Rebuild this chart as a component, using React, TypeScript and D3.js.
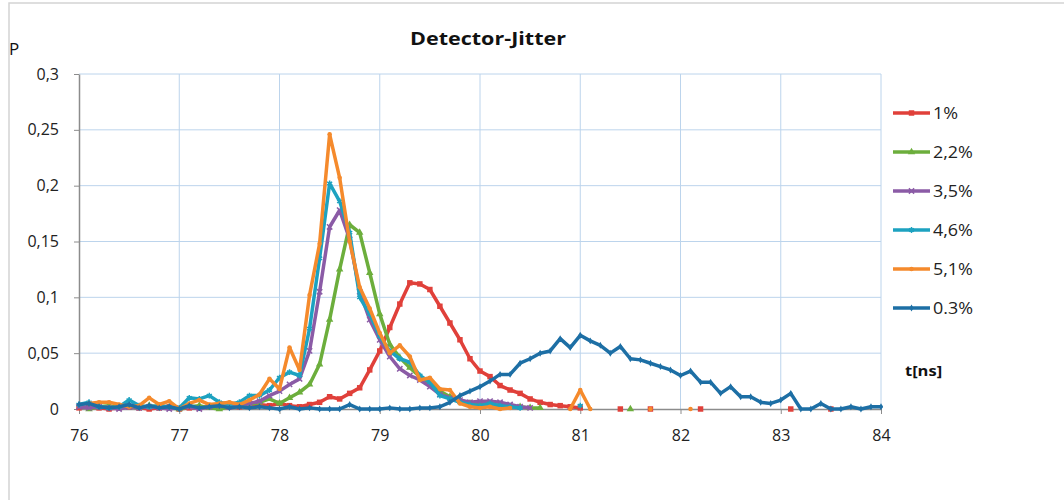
import React, { useRef, useEffect } from 'react';
import * as d3 from 'd3';

// t in ns
const times = [
  76.0, 76.1, 76.2, 76.3, 76.4, 76.5, 76.6, 76.7, 76.8, 76.9,
  77.0, 77.1, 77.2, 77.3, 77.4, 77.5, 77.6, 77.7, 77.8, 77.9,
  78.0, 78.1, 78.2, 78.3, 78.4, 78.5, 78.6, 78.7, 78.8, 78.9,
  79.0, 79.1, 79.2, 79.3, 79.4, 79.5, 79.6, 79.7, 79.8, 79.9,
  80.0, 80.1, 80.2, 80.3, 80.4, 80.5, 80.6, 80.7, 80.8, 80.9,
  81.0, 81.1, 81.2, 81.3, 81.4, 81.5, 81.6, 81.7, 81.8, 81.9,
  82.0, 82.1, 82.2, 82.3, 82.4, 82.5, 82.6, 82.7, 82.8, 82.9,
  83.0, 83.1, 83.2, 83.3, 83.4, 83.5, 83.6, 83.7, 83.8, 83.9, 84.0,
];

// P per series (null = no point)
const p1 = [
  0.001, 0.002, 0.001, 0.000, 0.001, 0.002, 0.001, 0.000, 0.001, 0.002,
  0.000, 0.001, 0.001, 0.002, 0.001, 0.002, 0.002, 0.003, 0.004, 0.003,
  0.005, 0.003, 0.002, 0.004, 0.006, 0.011, 0.009, 0.014, 0.019, 0.035,
  0.052, 0.073, 0.094, 0.113, 0.112, 0.107, 0.092, 0.077, 0.062, 0.045,
  0.034, 0.029, 0.021, 0.017, 0.014, 0.009, 0.006, 0.004, 0.003, 0.002,
  0.001, null, null, null, 0, null, null, 0, null, null,
  null, null, 0, null, null, null, null, null, null, null,
  null, 0, null, null, null, 0, null, null, null, null, null,
];

const p22 = [
  null, 0.000, 0.002, 0.003, 0.001, 0.002, 0.001, 0.003, 0.002, 0.001,
  0.000, 0.002, 0.003, 0.001, 0.000, 0.002, 0.003, 0.004, 0.006, 0.009,
  0.005, 0.010, 0.015, 0.022, 0.040, 0.080, 0.125, 0.165, 0.158, 0.122,
  0.085, 0.058, 0.046, 0.037, 0.029, 0.023, 0.016, 0.011, 0.008, 0.005,
  0.004, 0.004, 0.003, 0.002, 0.002, 0.001, 0.001, null, null, null,
  null, null, null, null, null, 0, null, null, null, null,
  null, null, null, null, null, null, null, null, null, null,
  null, null, null, null, null, null, null, null, null, null, null,
];

const p35 = [
  0.002, 0.001, 0.002, 0.001, 0.000, 0.002, 0.001, 0.002, 0.001, 0.000,
  0.001, 0.002, 0.000, 0.002, 0.003, 0.002, 0.004, 0.005, 0.007, 0.012,
  0.016, 0.022, 0.027, 0.052, 0.105, 0.163, 0.178, 0.152, 0.105, 0.080,
  0.062, 0.047, 0.036, 0.030, 0.026, 0.020, 0.013, 0.010, 0.008, 0.006,
  0.007, 0.007, 0.006, 0.004, 0.002, 0.001, null, null, null, null,
  null, null, null, null, null, null, null, null, null, null,
  null, null, null, null, null, null, null, null, null, null,
  null, null, null, null, null, null, null, null, null, null, null,
];

const p46 = [
  0.004, 0.006, 0.002, 0.001, 0.002, 0.008, 0.003, 0.002, 0.003, 0.002,
  0.001, 0.010, 0.009, 0.012, 0.006, 0.004, 0.006, 0.012, 0.012, 0.017,
  0.028, 0.033, 0.030, 0.072, 0.135, 0.202, 0.186, 0.158, 0.100, 0.085,
  0.065, 0.052, 0.045, 0.042, 0.030, 0.024, 0.012, 0.009, 0.006, 0.004,
  0.003, 0.005, 0.003, 0.002, 0.001, null, null, null, null, null,
  0.003, null, null, null, null, null, null, null, null, null,
  null, null, null, null, null, null, null, null, null, null,
  null, null, null, null, null, null, null, null, null, null, null,
];

const p51 = [
  null, 0.005, 0.006, 0.006, 0.004, 0.002, 0.003, 0.010, 0.004, 0.007,
  0.000, 0.005, 0.008, 0.004, 0.005, 0.006, 0.004, 0.008, 0.013, 0.027,
  0.018, 0.055, 0.035, 0.102, 0.148, 0.246, 0.207, 0.150, 0.109, 0.090,
  0.068, 0.050, 0.057, 0.047, 0.026, 0.028, 0.018, 0.017, 0.005, 0.002,
  0.001, 0.002, 0.000, 0.001, null, null, null, null, null, 0.000,
  0.017, 0.000, null, null, null, null, null, 0, null, null,
  null, 0, null, null, null, null, null, null, null, null,
  null, null, null, null, null, null, null, null, null, null, null,
];

const p03 = [
  0.004, 0.005, 0.002, 0.001, 0.002, 0.004, 0.001, 0.003, 0.001, 0.002,
  0.000, 0.003, 0.001, 0.002, 0.003, 0.001, 0.002, 0.001, 0.002, 0.001,
  0.000, 0.002, 0.000, 0.001, 0.000, 0.000, 0.000, 0.004, 0.000, 0.000,
  0.000, 0.001, 0.000, 0.000, 0.001, 0.001, 0.002, 0.006, 0.012, 0.016,
  0.020, 0.025, 0.031, 0.031, 0.041, 0.045, 0.050, 0.052, 0.063, 0.055,
  0.066, 0.061, 0.057, 0.050, 0.056, 0.045, 0.044, 0.041, 0.038, 0.035,
  0.030, 0.034, 0.024, 0.024, 0.014, 0.020, 0.011, 0.011, 0.006, 0.005,
  0.008, 0.014, 0.000, 0.000, 0.005, 0.000, 0.000, 0.002, 0.000, 0.002, 0.002,
];

const seriesNames = ['1%', '2,2%', '3,5%', '4,6%', '5,1%', '0.3%'];
const seriesValues = [p1, p22, p35, p46, p51, p03];
const seriesColors = ['#E0403A', '#6CAE3C', '#8B5BA6', '#1DA2C0', '#F58A2C', '#1D6FA5'];

const yTicks = [0, 0.05, 0.1, 0.15, 0.2, 0.25, 0.3];
const yTickLabels = ['0', '0,05', '0,1', '0,15', '0,2', '0,25', '0,3'];
const xTicks = [76, 77, 78, 79, 80, 81, 82, 83, 84];

const FONT = '"Open Sans", sans-serif';

const App = () => {
  const svgRef = useRef<SVGSVGElement>(null);

  useEffect(() => {
    const width = 1064;
    const height = 500;
    const margin = { top: 74, right: 183, bottom: 91, left: 79 };

    const x = d3.scaleLinear().domain([76, 84]).range([margin.left, width - margin.right]);
    const y = d3.scaleLinear().domain([0, 0.3]).range([height - margin.bottom, margin.top]);

    const svg = d3.select(svgRef.current);
    svg.selectAll('*').remove();

    svg.append('rect').attr('width', width).attr('height', height).attr('fill', '#fff');

    // frame of the chart area (top and left edges only visible)
    svg.append('path')
      .attr('d', `M9,${height}V3H${width}`)
      .attr('fill', 'none')
      .attr('stroke', '#d4d4d4')
      .attr('stroke-width', 1.5);

    // grid
    const grid = svg.append('g').attr('stroke', '#bcd4ec').attr('stroke-width', 1);
    grid.selectAll('line.h')
      .data(yTicks.filter(d => d > 0))
      .enter()
      .append('line')
      .attr('x1', x(76)).attr('x2', x(84))
      .attr('y1', d => y(d)).attr('y2', d => y(d));
    grid.selectAll('line.v')
      .data(xTicks.filter(d => d > 76))
      .enter()
      .append('line')
      .attr('x1', d => x(d)).attr('x2', d => x(d))
      .attr('y1', y(0)).attr('y2', y(0.3));

    // axes
    const yAxis = svg.append('g')
      .attr('transform', `translate(${margin.left},0)`)
      .call(d3.axisLeft(y).tickValues(yTicks).tickFormat((d, i) => yTickLabels[i]).tickSize(5).tickSizeOuter(0).tickPadding(15));
    const xAxis = svg.append('g')
      .attr('transform', `translate(0,${height - margin.bottom})`)
      .call(d3.axisBottom(x).tickValues(xTicks).tickFormat(d3.format('d')).tickSize(5).tickSizeOuter(0).tickPadding(16));
    [yAxis, xAxis].forEach(ax => {
      ax.select('.domain').attr('stroke', '#8c8c8c').attr('stroke-width', 1.5);
      ax.selectAll('.tick line').attr('stroke', '#8c8c8c').attr('stroke-width', 1);
      ax.selectAll('.tick text')
        .attr('fill', '#222')
        .style('font-family', FONT)
        .style('font-size', '16px');
    });

    // series
    const markerTypes = [d3.symbolSquare, d3.symbolTriangle, d3.symbolX, d3.symbolAsterisk, d3.symbolCircle, d3.symbolDiamond];
    const markerSizes = [30, 24, 20, 24, 16, 14];
    const strokeMarker = [false, false, true, true, false, false];

    const line = d3.line<number | null>()
      .defined(d => d !== null)
      .x((d, i) => x(times[i]))
      .y(d => y(d as number));

    seriesValues.forEach((vals, s) => {
      const g = svg.append('g');
      g.append('path')
        .datum(vals)
        .attr('fill', 'none')
        .attr('stroke', seriesColors[s])
        .attr('stroke-width', 3.5)
        .attr('stroke-linejoin', 'round')
        .attr('stroke-linecap', 'round')
        .attr('d', line);
      const sym = d3.symbol().type(markerTypes[s]).size(markerSizes[s]);
      g.selectAll('path.m')
        .data(vals.map((v, i) => ({ v, i })).filter(d => d.v !== null))
        .enter()
        .append('path')
        .attr('class', 'm')
        .attr('transform', d => `translate(${x(times[d.i])},${y(d.v as number)})`)
        .attr('d', sym)
        .attr('fill', strokeMarker[s] ? 'none' : seriesColors[s])
        .attr('stroke', strokeMarker[s] ? seriesColors[s] : 'none')
        .attr('stroke-width', 1.5);
    });

    // legend
    const legend = svg.append('g');
    seriesNames.forEach((name, s) => {
      const ly = 113 + s * 39;
      legend.append('line')
        .attr('x1', 893).attr('x2', 930)
        .attr('y1', ly).attr('y2', ly)
        .attr('stroke', seriesColors[s])
        .attr('stroke-width', 3.5);
      legend.append('path')
        .attr('transform', `translate(911.5,${ly})`)
        .attr('d', d3.symbol().type(markerTypes[s]).size(markerSizes[s]))
        .attr('fill', strokeMarker[s] ? 'none' : seriesColors[s])
        .attr('stroke', strokeMarker[s] ? seriesColors[s] : 'none')
        .attr('stroke-width', 1.5);
      legend.append('text')
        .attr('transform', `translate(933,${ly}) scale(1.12,1)`)
        .attr('dy', '0.36em')
        .attr('fill', '#222')
        .style('font-family', FONT)
        .style('font-size', '16px')
        .text(name);
    });

    // titles
    svg.append('text')
      .attr('x', 488).attr('y', 45)
      .attr('text-anchor', 'middle')
      .attr('textLength', 156)
      .attr('lengthAdjust', 'spacingAndGlyphs')
      .style('font-family', FONT)
      .style('font-size', '18px')
      .style('font-weight', 'bold')
      .attr('fill', '#111')
      .text('Detector-Jitter');

    svg.append('text')
      .attr('x', 9).attr('y', 55)
      .style('font-family', FONT)
      .style('font-size', '17px')
      .attr('fill', '#111')
      .text('P');

    svg.append('text')
      .attr('transform', 'translate(905,376) scale(1.1,1)')
      .style('font-family', FONT)
      .style('font-size', '15px')
      .style('font-weight', 'bold')
      .attr('fill', '#111')
      .text('t[ns]');
  }, []);

  return (
    <div style={{ position: 'absolute', left: 0, top: 0, width: '1064px', height: '500px' }}>
      <svg ref={svgRef} width={1064} height={500} style={{ display: 'block' }}></svg>
    </div>
  );
};

export default App;
